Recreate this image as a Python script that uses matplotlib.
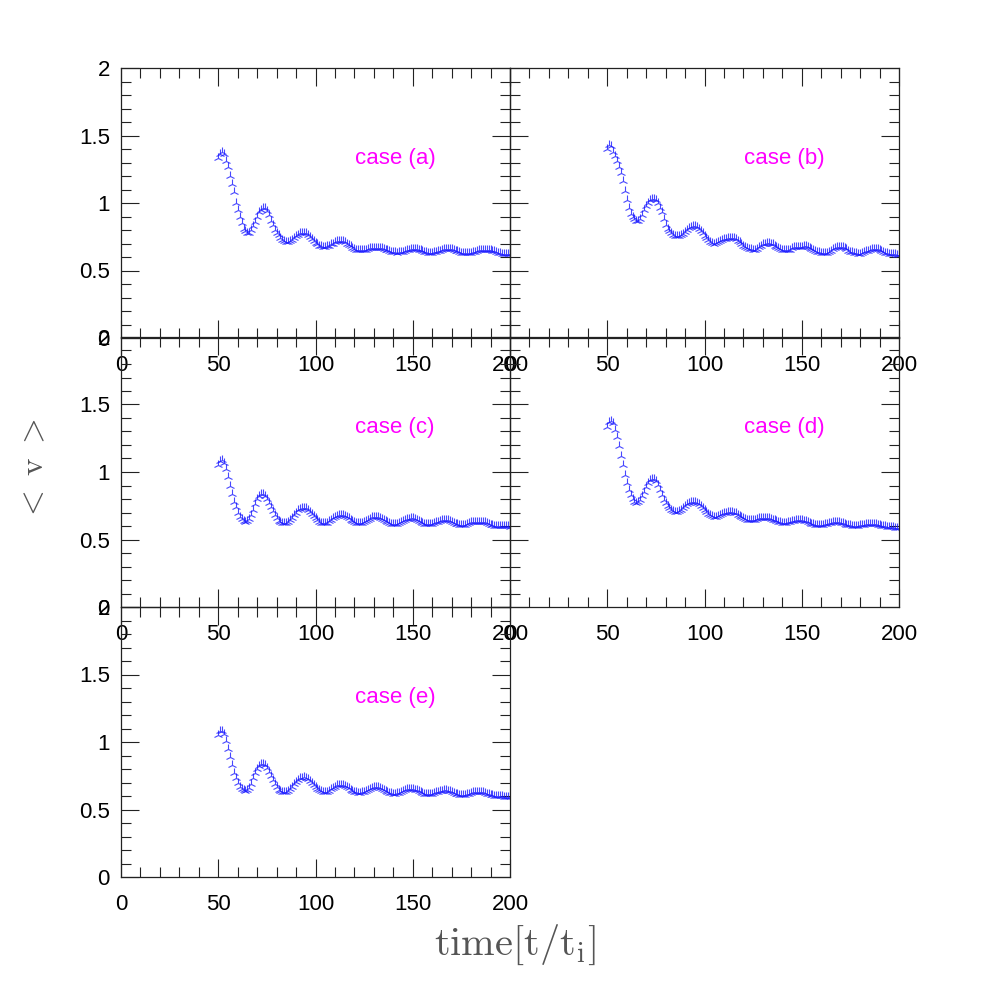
import matplotlib
matplotlib.use('Agg')
import matplotlib.pyplot as plt
import numpy as np
from matplotlib.ticker import MultipleLocator, FormatStrFormatter

plt.rcParams['font.family'] = ['Liberation Sans', 'DejaVu Sans']
plt.rcParams['mathtext.fontset'] = 'cm'

# time axis, one sample per t/t_i unit
time = np.arange(50, 201)

case_a = [
    1.33, 1.36, 1.38, 1.36, 1.31, 1.27, 1.20, 1.14, 1.08, 1.00,
    0.95, 0.90, 0.85, 0.81, 0.79, 0.78, 0.78, 0.80, 0.83, 0.86,
    0.90, 0.93, 0.95, 0.965, 0.96, 0.94, 0.91, 0.87, 0.84, 0.80,
    0.78, 0.76, 0.74, 0.725, 0.715, 0.71, 0.71, 0.715, 0.725, 0.74,
    0.755, 0.765, 0.775, 0.78, 0.78, 0.775, 0.765, 0.75, 0.735, 0.72,
    0.705, 0.695, 0.685, 0.68, 0.675, 0.675, 0.68, 0.685, 0.695, 0.70,
    0.71, 0.715, 0.72, 0.72, 0.715, 0.71, 0.70, 0.69, 0.68, 0.67,
    0.66, 0.655, 0.65, 0.65, 0.65, 0.652, 0.655, 0.66, 0.665, 0.668,
    0.67, 0.67, 0.67, 0.668, 0.665, 0.66, 0.655, 0.65, 0.645, 0.64,
    0.636, 0.634, 0.633, 0.634, 0.637, 0.64, 0.645, 0.65, 0.655, 0.658,
    0.66, 0.66, 0.658, 0.655, 0.65, 0.645, 0.64, 0.635, 0.632, 0.63,
    0.631, 0.634, 0.638, 0.643, 0.648, 0.652, 0.656, 0.659, 0.66, 0.659,
    0.656, 0.652, 0.647, 0.642, 0.637, 0.633, 0.63, 0.628, 0.627, 0.628,
    0.631, 0.635, 0.64, 0.645, 0.649, 0.652, 0.654, 0.655, 0.655, 0.653,
    0.65, 0.646, 0.641, 0.636, 0.632, 0.628, 0.625, 0.623, 0.622, 0.621,
    0.62,
]

case_b = [
    1.40, 1.43, 1.42, 1.38, 1.35, 1.31, 1.27, 1.22, 1.16, 1.09,
    1.02, 0.96, 0.92, 0.90, 0.88, 0.87, 0.866, 0.88, 0.91, 0.945,
    0.975, 1.00, 1.02, 1.03, 1.03, 1.02, 1.00, 0.96, 0.93, 0.88,
    0.84, 0.81, 0.79, 0.775, 0.765, 0.757, 0.754, 0.755, 0.76, 0.77,
    0.785, 0.80, 0.815, 0.825, 0.83, 0.83, 0.825, 0.81, 0.795, 0.775,
    0.755, 0.74, 0.725, 0.712, 0.705, 0.70, 0.703, 0.71, 0.716, 0.725,
    0.732, 0.737, 0.74, 0.742, 0.742, 0.74, 0.733, 0.722, 0.71, 0.697,
    0.685, 0.675, 0.667, 0.66, 0.656, 0.654, 0.654, 0.66, 0.672, 0.684,
    0.694, 0.70, 0.704, 0.704, 0.70, 0.693, 0.684, 0.674, 0.665, 0.658,
    0.653, 0.65, 0.649, 0.649, 0.655, 0.665, 0.672, 0.674, 0.672, 0.673,
    0.676, 0.679, 0.679, 0.676, 0.67, 0.662, 0.654, 0.646, 0.64, 0.635,
    0.631, 0.629, 0.629, 0.631, 0.638, 0.648, 0.658, 0.666, 0.671, 0.674,
    0.674, 0.671, 0.665, 0.657, 0.648, 0.64, 0.634, 0.629, 0.626, 0.625,
    0.625, 0.628, 0.634, 0.641, 0.648, 0.653, 0.657, 0.659, 0.659, 0.656,
    0.65, 0.643, 0.637, 0.632, 0.628, 0.625, 0.622, 0.62, 0.619, 0.618,
    0.617,
]

case_c = [
    1.05, 1.08, 1.09, 1.07, 1.02, 0.96, 0.90, 0.84, 0.78, 0.74,
    0.70, 0.67, 0.65, 0.635, 0.63, 0.635, 0.65, 0.68, 0.72, 0.76,
    0.80, 0.825, 0.835, 0.835, 0.825, 0.80, 0.77, 0.74, 0.71, 0.68,
    0.66, 0.64, 0.63, 0.622, 0.62, 0.622, 0.63, 0.645, 0.66, 0.68,
    0.70, 0.715, 0.725, 0.732, 0.735, 0.73, 0.72, 0.705, 0.69, 0.675,
    0.66, 0.645, 0.632, 0.625, 0.62, 0.62, 0.625, 0.635, 0.645, 0.657,
    0.668, 0.677, 0.682, 0.684, 0.682, 0.676, 0.667, 0.656, 0.645, 0.635,
    0.628, 0.623, 0.62, 0.62, 0.621, 0.626, 0.634, 0.645, 0.655, 0.663,
    0.668, 0.669, 0.666, 0.66, 0.652, 0.643, 0.634, 0.626, 0.619, 0.614,
    0.612, 0.612, 0.615, 0.62, 0.628, 0.636, 0.644, 0.651, 0.655, 0.657,
    0.656, 0.652, 0.645, 0.637, 0.629, 0.622, 0.616, 0.613, 0.612, 0.613,
    0.616, 0.621, 0.627, 0.633, 0.639, 0.643, 0.645, 0.645, 0.643, 0.638,
    0.632, 0.625, 0.618, 0.612, 0.608, 0.607, 0.608, 0.611, 0.616, 0.621,
    0.626, 0.63, 0.632, 0.633, 0.633, 0.632, 0.63, 0.626, 0.621, 0.616,
    0.611, 0.606, 0.603, 0.601, 0.60, 0.60, 0.60, 0.599, 0.598, 0.597,
    0.595,
]

case_d = [
    1.33, 1.37, 1.38, 1.36, 1.31, 1.26, 1.19, 1.12, 1.05, 0.98,
    0.92, 0.87, 0.83, 0.80, 0.78, 0.773, 0.775, 0.79, 0.82, 0.855,
    0.89, 0.92, 0.94, 0.95, 0.95, 0.935, 0.905, 0.87, 0.83, 0.795,
    0.77, 0.75, 0.733, 0.72, 0.71, 0.706, 0.707, 0.713, 0.722, 0.735,
    0.748, 0.76, 0.77, 0.777, 0.78, 0.78, 0.774, 0.763, 0.748, 0.732,
    0.716, 0.702, 0.69, 0.68, 0.672, 0.668, 0.668, 0.672, 0.679, 0.687,
    0.694, 0.70, 0.703, 0.705, 0.704, 0.70, 0.693, 0.684, 0.674, 0.664,
    0.656, 0.65, 0.645, 0.643, 0.643, 0.645, 0.648, 0.652, 0.656, 0.659,
    0.661, 0.662, 0.661, 0.658, 0.653, 0.647, 0.641, 0.635, 0.63, 0.626,
    0.624, 0.623, 0.624, 0.626, 0.63, 0.634, 0.638, 0.641, 0.643, 0.643,
    0.642, 0.639, 0.634, 0.628, 0.622, 0.617, 0.613, 0.61, 0.608, 0.608,
    0.609, 0.611, 0.614, 0.618, 0.622, 0.625, 0.627, 0.628, 0.628, 0.627,
    0.624, 0.62, 0.616, 0.611, 0.607, 0.604, 0.602, 0.601, 0.601, 0.602,
    0.604, 0.607, 0.61, 0.613, 0.615, 0.616, 0.616, 0.615, 0.613, 0.61,
    0.607, 0.603, 0.60, 0.597, 0.594, 0.592, 0.59, 0.589, 0.588, 0.587,
    0.586,
]

case_e = [
    1.05, 1.08, 1.08, 1.06, 1.01, 0.95, 0.89, 0.83, 0.77, 0.73,
    0.70, 0.67, 0.655, 0.645, 0.64, 0.645, 0.66, 0.69, 0.73, 0.77,
    0.80, 0.825, 0.84, 0.84, 0.83, 0.805, 0.775, 0.745, 0.715, 0.69,
    0.665, 0.648, 0.636, 0.63, 0.628, 0.632, 0.64, 0.654, 0.67, 0.688,
    0.705, 0.72, 0.73, 0.737, 0.74, 0.736, 0.726, 0.712, 0.697, 0.682,
    0.668, 0.655, 0.643, 0.635, 0.63, 0.628, 0.632, 0.64, 0.65, 0.66,
    0.67, 0.678, 0.683, 0.685, 0.683, 0.677, 0.668, 0.658, 0.648, 0.639,
    0.632, 0.627, 0.625, 0.625, 0.627, 0.632, 0.639, 0.647, 0.655, 0.661,
    0.665, 0.666, 0.664, 0.659, 0.652, 0.644, 0.636, 0.629, 0.623, 0.619,
    0.617, 0.617, 0.62, 0.625, 0.631, 0.638, 0.644, 0.649, 0.652, 0.653,
    0.652, 0.648, 0.642, 0.635, 0.628, 0.622, 0.617, 0.614, 0.613, 0.614,
    0.617, 0.621, 0.626, 0.631, 0.636, 0.64, 0.642, 0.642, 0.64, 0.636,
    0.63, 0.624, 0.618, 0.613, 0.609, 0.607, 0.607, 0.609, 0.613, 0.618,
    0.623, 0.627, 0.63, 0.631, 0.631, 0.63, 0.627, 0.623, 0.618, 0.613,
    0.608, 0.604, 0.601, 0.599, 0.598, 0.597, 0.597, 0.596, 0.595, 0.594,
    0.593,
]

cases = [case_a, case_b, case_c, case_d, case_e]
case_labels = ['case (a)', 'case (b)', 'case (c)', 'case (d)', 'case (e)']
x_ticks = [0, 50, 100, 150, 200]
y_ticks = [0, 0.5, 1, 1.5, 2]

W = 981
fig = plt.figure(figsize=(9.81, 9.81), dpi=100)

# panel boxes in pixels: left, top
left_px = [121, 510]
top_px = [68, 337, 607]
w_px = 389
h_px = 270

for i, (vals, lab) in enumerate(zip(cases, case_labels)):
    row, col = divmod(i, 2)
    l = left_px[col] / W
    b = 1 - (top_px[row] + h_px) / W
    ax = fig.add_axes([l, b, w_px / W, h_px / W])
    ax.patch.set_alpha(0)

    ax.plot(time, vals, linestyle='none', marker='2', markersize=6.5,
            markeredgewidth=0.8, color='#1a1aff', alpha=0.8)

    ax.set_xlim(0, 200)
    ax.set_ylim(0, 2)
    ax.set_xticks(x_ticks)
    ax.set_yticks(y_ticks)
    ax.xaxis.set_minor_locator(MultipleLocator(10))
    ax.yaxis.set_minor_locator(MultipleLocator(0.1))
    ax.yaxis.set_major_formatter(FormatStrFormatter('%g'))
    ax.tick_params(which='both', direction='in', top=True, right=True,
                   labelsize=16, width=0.8, color='#222222',
                   labelcolor='black')
    ax.tick_params(axis='x', pad=12)
    ax.tick_params(axis='y', pad=8)
    ax.tick_params(which='major', length=13)
    ax.tick_params(which='minor', length=7)
    if col == 1:
        ax.tick_params(labelleft=False)
    for s in ax.spines.values():
        s.set_linewidth(0.9)
        s.set_color('#222222')

    ax.text(141, 1.33, lab, color='#ff00ff', fontsize=16,
            ha='center', va='center')

fig.text(515 / W, 1 - 945 / W, r'$\mathrm{time[t/t_{i}]}$', fontsize=29,
         color='#555555', ha='center', va='center')
fig.text(35 / W, 1 - 470 / W, r'$<\;\mathrm{v}\;>$', fontsize=24,
         color='#555555', ha='center', va='center', rotation=90)

fig.savefig('out.png', dpi=100)
